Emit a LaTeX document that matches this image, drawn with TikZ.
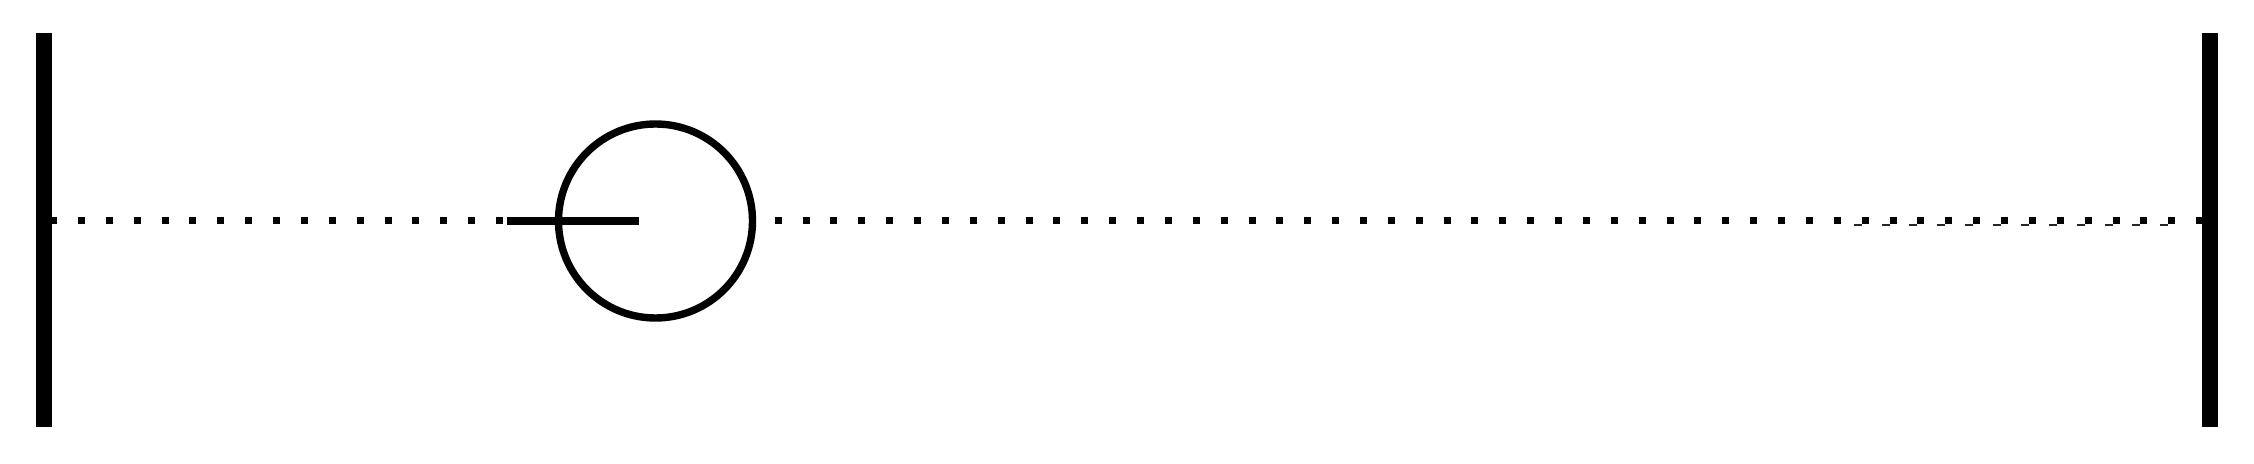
\documentclass[tikz,border=0pt]{standalone}
\begin{document}
\begin{tikzpicture}[x=0.5pt,y=-0.5pt,
  bar/.style={line width=8pt},
  dotline/.style={line width=3.5pt, dash pattern=on 3.5pt off 10.435pt, dash phase=10.885pt},
  ghost/.style={line width=0.7pt, black!85, dash pattern=on 4pt off 9.935pt},
  ring/.style={circle, draw, fill=white, line width=3.7pt, minimum size=97pt, inner sep=0pt},
  rod/.style={line width=4pt}]
\fill[white] (0,0) rectangle (2254,464);
\useasboundingbox (0,0) rectangle (2254,464);
% bars
\coordinate (lt) at (44,33);
\coordinate (lb) at (44,427);
\coordinate (lm) at (44,221);
\coordinate (rt) at (2209.5,33);
\coordinate (rb) at (2209.5,427);
\coordinate (rm) at (2209.5,221);
% dotted axis
\draw[dotline] (lm) -- (rm);
% faint second trace near the right end
\coordinate (g1) at (1853.7,225);
\coordinate (g2) at (2170,225);
\draw[ghost] (g1) -- (g2);
% circle and rod
\node[ring] (c) at (655.5,221) {};
\coordinate (h1) at (507,221);
\coordinate (h2) at (639,221);
\draw[rod] (h1) -- (h2);
% end bars on top
\draw[bar] (lt) -- (lb);
\draw[bar] (rt) -- (rb);
\end{tikzpicture}
\end{document}
